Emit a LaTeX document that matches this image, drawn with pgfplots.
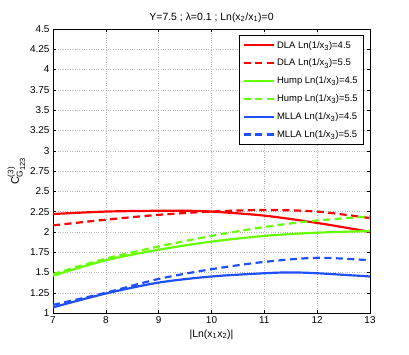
\documentclass[border=0pt]{standalone}
\usepackage{fontspec}
\setmainfont{Liberation Sans}
\usepackage{amsmath}
\usepackage{pgfplots}
\pgfplotsset{compat=1.18}

\definecolor{dlared}{RGB}{255,0,0}
\definecolor{humpgreen}{RGB}{102,255,0}
\definecolor{mllablue}{RGB}{30,80,255}

\newcommand{\sub}[1]{$_{\text{\fontsize{7.5}{8}\selectfont #1}}$}

\begin{document}
\fontsize{10}{12}\selectfont
\begin{tikzpicture}
\begin{axis}[
  name=ax,
  scale only axis,
  width=317bp, height=284bp,
  xmin=7, xmax=13, ymin=1, ymax=4.5,
  xtick={7,8,...,13},
  ytick={1,1.25,1.5,1.75,2,2.25,2.5,2.75,3,3.25,3.5,3.75,4,4.25,4.5},
  /pgf/number format/assume math mode=true,
  yticklabel style={/pgf/number format/precision=2},
  tick align=inside,
  major tick length=3bp,
  grid=major,
  grid style={dotted, gray!55, line width=0.4pt},
  axis line style={line width=0.5pt},
  tick style={black, line width=0.4pt},
  title={Y=7.5 ; λ=0.1 ; Ln(x\sub{2}/x\sub{1})=0},
  title style={yshift=-3bp, font=\fontsize{10.5}{12}\selectfont},
  xlabel={|Ln(x\sub{1}x\sub{2})|},
  xlabel style={yshift=1bp, font=\fontsize{10.5}{12}\selectfont},
  ylabel={C$^{\text{\fontsize{8}{8}\selectfont(3)}}_{\text{\fontsize{8.5}{8}\selectfont G}_{\text{\fontsize{7.5}{8}\selectfont 123}}}$},
  ylabel style={yshift=-2bp, font=\fontsize{11}{12}\selectfont},
  legend style={at={(rel axis cs:0.981,0.979)}, anchor=north east,
    draw=black, line width=0.5pt, fill=white,
    row sep=5.5bp, inner xsep=4bp, inner ysep=4bp,
    font=\fontsize{9.5}{11}\selectfont},
  legend cell align=left,
  legend image code/.code={\draw[mark repeat=2,mark phase=2,#1] plot coordinates {(0cm,0cm) (0.53cm,0cm) (1.06cm,0cm)};},
  every axis plot/.append style={line width=2.2pt},
]
\addplot[dlared, smooth] coordinates {(7,2.22) (8,2.25) (9,2.26) (9.5,2.26) (10,2.25) (11,2.20) (12,2.11) (13,2.0)};
\addlegendentry{DLA Ln(1/x\sub{3})=4.5}
\addplot[dlared, smooth, dash pattern=on 7bp off 4.5bp] coordinates {(7,2.08) (8,2.15) (9,2.21) (10,2.25) (11,2.27) (12,2.25) (13,2.17)};
\addlegendentry{DLA Ln(1/x\sub{3})=5.5}
\addplot[humpgreen, smooth] coordinates {(7,1.46) (8,1.65) (9,1.78) (10,1.88) (11,1.95) (12,1.99) (13,2.01)};
\addlegendentry{Hump Ln(1/x\sub{3})=4.5}
\addplot[humpgreen, smooth, dash pattern=on 7bp off 4.5bp] coordinates {(7,1.48) (8,1.67) (9,1.82) (10,1.95) (11,2.06) (12,2.14) (13,2.19)};
\addlegendentry{Hump Ln(1/x\sub{3})=5.5}
\addplot[mllablue, smooth] coordinates {(7,1.07) (8,1.24) (9,1.375) (10,1.45) (11,1.49) (11.5,1.5) (12,1.49) (13,1.45)};
\addlegendentry{MLLA Ln(1/x\sub{3})=4.5}
\addplot[mllablue, smooth, dash pattern=on 7bp off 4.5bp] coordinates {(7,1.10) (8,1.25) (9,1.42) (10,1.54) (11,1.63) (12,1.68) (13,1.65)};
\addlegendentry{MLLA Ln(1/x\sub{3})=5.5}
\end{axis}
\pgfresetboundingbox
\path ([shift={(-53bp,-41bp)}]ax.south west) rectangle ([shift={(39bp,29bp)}]ax.north east);
\end{tikzpicture}
\end{document}
